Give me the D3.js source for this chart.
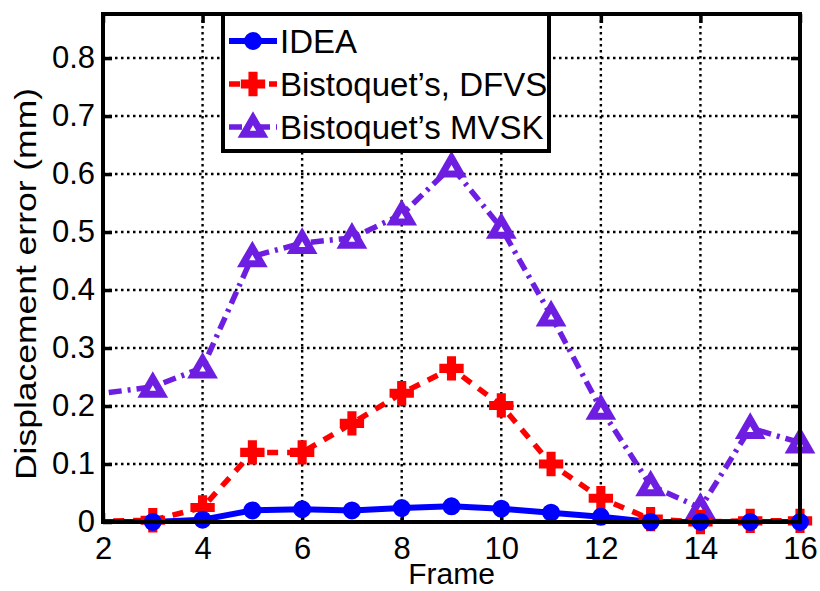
<!DOCTYPE html>
<html lang="en">
<head>
<meta charset="UTF-8">
<title>Displacement error</title>
<script src="https://cdn.jsdelivr.net/npm/d3@7"></script>
<style>
  body { margin: 0; background: #fff; }
  text { font-family: "Liberation Sans", Arial, sans-serif; fill: #000; }
</style>
</head>
<body>
<svg id="chart" width="820" height="591"></svg>
<script>
// data (frame 1 sits left of the visible axis)
const frames = [1, 3, 4, 5, 6, 7, 8, 9, 10, 11, 12, 13, 14, 15, 16];
const idea   = [0, 0, 0.004, 0.02, 0.022, 0.02, 0.024, 0.027, 0.023, 0.016, 0.009, 0, 0, 0, 0];
const dfvs   = [0, 0.003, 0.025, 0.12, 0.12, 0.17, 0.222, 0.265, 0.201, 0.1, 0.041, 0.005, 0, 0.002, 0.002];
const mvsk   = [0.211, 0.233, 0.266, 0.458, 0.481, 0.49, 0.53, 0.613, 0.507, 0.356, 0.195, 0.063, 0.024, 0.162, 0.137];
const xTicks = [2, 4, 6, 8, 10, 12, 14, 16];
const yTicks = [0, 0.1, 0.2, 0.3, 0.4, 0.5, 0.6, 0.7, 0.8];
const seriesNames = ["IDEA", "Bistoquet\u2019s, DFVS", "Bistoquet\u2019s MVSK"];

const pl = 103, pr = 800, pt = 14, pb = 522;

const x = d3.scaleLinear().domain([2, 16]).range([pl, pr]);
const y = d3.scaleLinear().domain([0, 0.876]).range([pb, pt]);

const svg = d3.select('#chart');

svg.append('clipPath').attr('id', 'plot-clip')
  .append('rect').attr('x', pl).attr('y', pt)
  .attr('width', pr - pl).attr('height', pb - pt);

// grid
const grid = svg.append('g')
  .attr('stroke', '#000').attr('stroke-width', 2.4)
  .attr('stroke-dasharray', '2.5,3.5');
grid.selectAll('.gx').data(xTicks.slice(1, -1)).join('line')
  .attr('x1', d => x(d)).attr('x2', d => x(d))
  .attr('y1', pt).attr('y2', pb);
grid.selectAll('.gy').data(yTicks.slice(1)).join('line')
  .attr('x1', pl).attr('x2', pr)
  .attr('y1', d => y(d)).attr('y2', d => y(d));

// axes (inward ticks, mirrored on right and top)
const fmt = d => d === 0 ? '0' : d3.format('.1f')(d);
const axes = [
  svg.append('g').attr('transform', `translate(${pl},0)`)
    .call(d3.axisLeft(y).tickValues(yTicks).tickFormat(fmt).tickSizeInner(-9).tickSizeOuter(0).tickPadding(8)),
  svg.append('g').attr('transform', `translate(${pr},0)`)
    .call(d3.axisRight(y).tickValues(yTicks).tickFormat('').tickSizeInner(-9).tickSizeOuter(0)),
  svg.append('g').attr('transform', `translate(0,${pb})`)
    .call(d3.axisBottom(x).tickValues(xTicks).tickFormat(d3.format('d')).tickSizeInner(-9).tickSizeOuter(0).tickPadding(15)),
  svg.append('g').attr('transform', `translate(0,${pt})`)
    .call(d3.axisTop(x).tickValues(xTicks).tickFormat('').tickSizeInner(-9).tickSizeOuter(0))
];
axes.forEach(g => {
  g.select('.domain').remove();
  g.selectAll('.tick line').attr('stroke', '#000').attr('stroke-width', 3.5);
  g.selectAll('.tick text').style('font-size', '31px').attr('fill', '#000');
});

// series
const series = [
  { name: seriesNames[0], values: idea, color: '#0000ff', dash: null, width: 6,
    symbol: d3.symbolCircle, size: 200, fill: '#0000ff', sw: 2, dy: 0 },
  { name: seriesNames[1], values: dfvs, color: '#ff0000', dash: '11,9', width: 5.5,
    symbol: d3.symbolCross, size: 290, fill: '#ff0000', sw: 1.5, dy: 0 },
  { name: seriesNames[2], values: mvsk, color: '#6e1ee0', dash: '13,6,3,6', width: 5.5,
    symbol: d3.symbolTriangle, size: 150, fill: '#fff', sw: 7, dy: 2 }
];

const line = d3.line().x(d => x(d[0])).y(d => y(d[1]));
const plot = svg.append('g').attr('clip-path', 'url(#plot-clip)');

series.slice().reverse().forEach(s => {
  const pts = frames.map((f, i) => [f, s.values[i]]);
  plot.append('path').datum(pts)
    .attr('d', line).attr('fill', 'none')
    .attr('stroke', s.color).attr('stroke-width', s.width)
    .attr('stroke-dasharray', s.dash);
  svg.append('g').selectAll('path').data(pts.filter(p => p[0] >= 2)).join('path')
    .attr('transform', p => `translate(${x(p[0])},${y(p[1]) + s.dy})`)
    .attr('d', d3.symbol(s.symbol, s.size))
    .attr('fill', s.fill).attr('stroke', s.color).attr('stroke-width', s.sw)
    .attr('stroke-linejoin', 'miter');
});

// frame
svg.append('rect').attr('x', pl).attr('y', pt)
  .attr('width', pr - pl).attr('height', pb - pt)
  .attr('fill', 'none').attr('stroke', '#000').attr('stroke-width', 4);

// axis labels
svg.append('text').attr('x', (pl + pr) / 2).attr('y', 584)
  .attr('text-anchor', 'middle').style('font-size', '30px').text('Frame');
svg.append('text').attr('transform', 'translate(36,284) rotate(-90)')
  .attr('text-anchor', 'middle').style('font-size', '29px')
  .attr('textLength', 392).attr('lengthAdjust', 'spacingAndGlyphs')
  .text('Displacement error (mm)');

// legend
const lg = svg.append('g').attr('transform', 'translate(223,14)');
lg.append('rect').attr('width', 326).attr('height', 137)
  .attr('fill', '#fff').attr('stroke', '#000').attr('stroke-width', 4);
series.forEach((s, i) => {
  const row = lg.append('g').attr('transform', `translate(0,${27 + i * 43})`);
  row.append('line').attr('x1', 6).attr('x2', 54).attr('y1', 0).attr('y2', 0)
    .attr('stroke', s.color).attr('stroke-width', s.width)
    .attr('stroke-dasharray', s.dash);
  row.append('path').attr('transform', `translate(30,${s.dy})`)
    .attr('d', d3.symbol(s.symbol, s.size))
    .attr('fill', s.fill).attr('stroke', s.color).attr('stroke-width', s.sw);
  row.append('text').attr('x', 57).attr('y', 12)
    .style('font-size', '33px').text(s.name);
});
</script>
</body>
</html>
